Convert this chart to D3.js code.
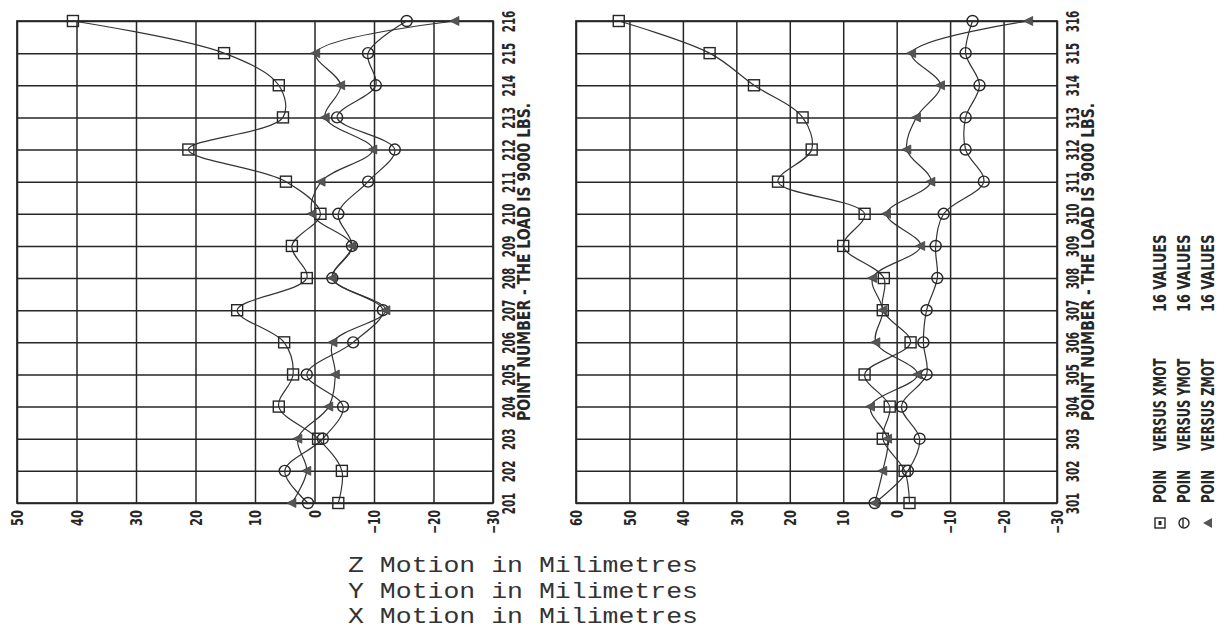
<!DOCTYPE html>
<html>
<head>
<meta charset="utf-8">
<script src="https://cdn.jsdelivr.net/npm/d3@7/dist/d3.min.js"></script>
<style>
  body { margin: 0; background: #fff; }
  svg { display: block; }
</style>
</head>
<body>
<div id="chart"></div>
<script>
// data (point number -> motion in mm)
const pointsA = ["201","202","203","204","205","206","207","208","209","210","211","212","213","214","215","216"];
const xmotA = [-4, -4.6, -0.6, 6, 3.6, 5.1, 13, 1.3, 3.8, -1, 4.8, 21.2, 5.3, 6, 15.2, 40.6];
const ymotA = [1.1, 5, -1.4, -4.8, 1.3, -6.5, -11.5, -3, -6.3, -4, -9, -13.5, -3.8, -10.3, -9, -15.5];
const zmotA = [3.8, 1.3, 2.8, -2.4, -3.5, -3.1, -12, -3, -6.3, 0.4, -1.1, -9.8, -1.8, -4.4, -0.2, -23.6];

const pointsB = ["301","302","303","304","305","306","307","308","309","310","311","312","313","314","315","316"];
const xmotB = [-2.4, -1.5, 2.6, 1.3, 6, -2.6, 2.6, 2.4, 10, 6, 22.2, 15.9, 17.6, 26.7, 35, 52];
const ymotB = [4.1, -2.1, -4.3, -0.9, -5.6, -5, -5.6, -7.6, -7.3, -8.8, -16.3, -12.9, -12.9, -15.5, -12.9, -14.2];
const zmotB = [4.1, 2.6, 1.7, 4.9, -3.9, 3.9, 2.6, 4.5, -4.5, 1.9, -6.4, -1.9, -3.7, -8.2, -2.8, -24.7];

const ticksA = [50, 40, 30, 20, 10, 0, -10, -20, -30];
const ticksB = [60, 50, 40, 30, 20, 10, 0, -10, -20, -30];

const axisTitle = "POINT NUMBER - THE LOAD IS  9000 LBS.";
const legendNames = ["XMOT", "YMOT", "ZMOT"];
const captions = ["Z Motion in Milimetres", "Y Motion in Milimetres", "X Motion in Milimetres"];

// setting up
const W = 1227, H = 642;
const ink = "#262626";
const plotFont = '"Liberation Sans Narrow", "DejaVu Sans Condensed", "DejaVu Sans", sans-serif';

const svg = d3.select("#chart").append("svg")
    .attr("width", W)
    .attr("height", H);

// squash text to a plotter-like narrow width
const squeeze = function(sel, charW){
    sel.each(function(){
        const t = d3.select(this);
        const s = t.text();
        t.attr("textLength", s.length * charW).attr("lengthAdjust", "spacingAndGlyphs");
    });
};

const drawPanel = function(opt){
    const x = d3.scaleLinear().domain(opt.xDomain).range([opt.left, opt.right]);
    const y = d3.scalePoint().domain(opt.points).range([503, 21]);
    const g = svg.append("g");

    // vertical grid + bottom tick labels
    const xAxis = d3.axisBottom(x).tickValues(opt.ticks).tickSize(-(503 - 21)).tickFormat(d3.format("d"));
    const gx = g.append("g").attr("transform", "translate(0,503)").call(xAxis);
    gx.select(".domain").remove();
    gx.selectAll(".tick line").attr("stroke", ink).attr("stroke-width", 1.5);
    gx.selectAll(".tick text")
      .attr("y", 0).attr("x", 0)
      .attr("transform", "translate(0,7) rotate(-90)")
      .attr("dy", "0.36em")
      .attr("text-anchor", "end")
      .attr("fill", ink)
      .attr("font-family", plotFont)
      .attr("font-weight", "bold")
      .attr("font-size", 16)
      .call(squeeze, 8);

    // horizontal grid + point number labels
    const yAxis = d3.axisRight(y).tickSize(-(opt.right - opt.left));
    const gy = g.append("g").attr("transform", `translate(${opt.right},0)`).call(yAxis);
    gy.select(".domain").remove();
    gy.selectAll(".tick line").attr("stroke", ink).attr("stroke-width", 1.5);
    gy.selectAll(".tick text")
      .attr("x", 0)
      .attr("transform", "translate(16,0) rotate(-90)")
      .attr("dy", "0.36em")
      .attr("text-anchor", "middle")
      .attr("fill", ink)
      .attr("font-family", plotFont)
      .attr("font-weight", "bold")
      .attr("font-size", 17)
      .call(squeeze, 7.2);

    g.append("rect")
      .attr("x", opt.left).attr("y", 21)
      .attr("width", opt.right - opt.left).attr("height", 503 - 21)
      .attr("fill", "none").attr("stroke", ink).attr("stroke-width", 1.7);

    g.append("text")
      .attr("transform", `translate(${opt.right + 31},${(21 + 503) / 2}) rotate(-90)`)
      .attr("dy", "0.36em")
      .attr("text-anchor", "middle")
      .attr("fill", ink)
      .attr("font-family", plotFont)
      .attr("font-weight", "bold")
      .attr("font-size", 17)
      .text(axisTitle)
      .call(squeeze, 8.6);

    const line = d3.line()
        .x(d => x(d.v))
        .y(d => y(d.p))
        .curve(d3.curveCatmullRom.alpha(0.5));

    const series = [opt.xs, opt.ys, opt.zs].map(vals => vals.map((v, i) => ({p: opt.points[i], v: v})));

    series.forEach(s => {
        g.append("path").datum(s)
          .attr("d", line)
          .attr("fill", "none")
          .attr("stroke", "#333")
          .attr("stroke-width", 1.2);
    });

    // squares (X)
    g.selectAll(".sq").data(series[0]).join("rect")
      .attr("class", "sq")
      .attr("x", d => x(d.v) - 5.5).attr("y", d => y(d.p) - 5.5)
      .attr("width", 11).attr("height", 11)
      .attr("fill", "none").attr("stroke", ink).attr("stroke-width", 1.4);

    // circles (Y)
    g.selectAll(".ci").data(series[1]).join("circle")
      .attr("class", "ci")
      .attr("cx", d => x(d.v)).attr("cy", d => y(d.p))
      .attr("r", 5.5)
      .attr("fill", "none").attr("stroke", ink).attr("stroke-width", 1.4);

    // triangles (Z), pointing left like the rotated plot
    g.selectAll(".tr").data(series[2]).join("path")
      .attr("class", "tr")
      .attr("transform", d => `translate(${x(d.v)},${y(d.p)})`)
      .attr("d", "M-5,0L4,-4.5L4,4.5Z")
      .attr("fill", "#555").attr("stroke", "#444").attr("stroke-width", 0.8);
};

drawPanel({left: 17, right: 493, xDomain: [50, -30], ticks: ticksA, points: pointsA, xs: xmotA, ys: ymotA, zs: zmotA});
drawPanel({left: 576, right: 1057, xDomain: [60, -30], ticks: ticksB, points: pointsB, xs: xmotB, ys: ymotB, zs: zmotB});

// legend (rotated)
const legX = [1160, 1184, 1208];
const legend = svg.append("g");
legendNames.forEach((name, i) => {
    const cx = legX[i];
    const lg = legend.append("g");
    const addText = (str, yStart, charW) => {
        lg.append("text")
          .attr("transform", `translate(${cx},${yStart}) rotate(-90)`)
          .attr("dy", "0.36em")
          .attr("fill", ink)
          .attr("font-family", plotFont)
          .attr("font-weight", "bold")
          .attr("font-size", 17)
          .text(str)
          .call(squeeze, charW);
    };
    addText("POIN", 503, 8.3);
    addText("VERSUS " + name, 451, 8.4);
    addText("16 VALUES", 312, 8.6);

    if (i === 0) {
        lg.append("rect").attr("x", cx - 5).attr("y", 518).attr("width", 10).attr("height", 10)
          .attr("fill", "none").attr("stroke", ink).attr("stroke-width", 1.4);
        lg.append("rect").attr("x", cx - 1.5).attr("y", 521).attr("width", 3).attr("height", 4).attr("fill", ink);
    } else if (i === 1) {
        lg.append("circle").attr("cx", cx).attr("cy", 523).attr("r", 5)
          .attr("fill", "none").attr("stroke", ink).attr("stroke-width", 1.4);
        lg.append("line").attr("x1", cx - 1).attr("x2", cx - 1).attr("y1", 519).attr("y2", 527)
          .attr("stroke", ink).attr("stroke-width", 1.4);
    } else {
        lg.append("path").attr("transform", `translate(${cx},523)`)
          .attr("d", "M-5,0L4,-5L4,5Z").attr("fill", "#555");
    }
});

// typed captions under the plots
svg.append("g").selectAll("text").data(captions).join("text")
    .attr("x", 348)
    .attr("y", (d, i) => 572 + i * 25.5)
    .attr("fill", "#333")
    .attr("font-family", '"Liberation Mono", "DejaVu Sans Mono", monospace')
    .attr("font-size", 22)
    .attr("textLength", 350)
    .attr("lengthAdjust", "spacingAndGlyphs")
    .text(d => d);
</script>
</body>
</html>
